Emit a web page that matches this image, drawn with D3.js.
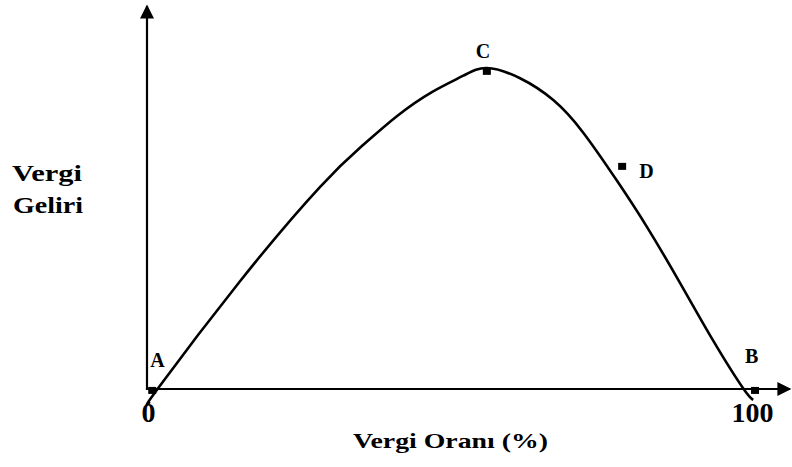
<!DOCTYPE html>
<html>
<head>
<meta charset="utf-8">
<script src="https://cdn.jsdelivr.net/npm/d3@7"></script>
<style>
  body { margin: 0; background: #fff; }
  text { font-family: "Liberation Serif", serif; font-weight: bold; fill: #000; }
</style>
</head>
<body>
<div id="paper"></div>
<script>

// curve (tax rate %, revenue as % of peak).

const taxRate = [0.3, 1.7, 15.2, 28.5, 35.6, 41.2, 47, 52.2, 56.1, 61.6, 67.1, 72, 77.6, 82.6, 88.1, 93.5, 98.5, 100.2]
const revenue = [-4, 0.3, 33.5, 63, 76, 85, 92.5, 97.6, 100, 96.8, 90, 80, 65, 50.5, 33, 15.3, 0.3, -3.4]

// marked points on the curve.

const pointNames = ["A", "B", "C", "D"]
const pointRate = [0.7, 100.5, 56.1, 78.5]
const pointRevenue = [-0.6, -0.6, 98.8, 69.2]

const xTicks = [0, 100]

// svg canvas.

const width = 792, height = 467

const svg = d3.select("#paper")
    .append("svg")
    .attr("id", "canvas")
    .attr("width", width)
    .attr("height", height)
    .style("font-family", "'Liberation Serif', serif")

// scales: 0..100 on both axes.

const x = d3.scaleLinear().domain([0, 100]).range([148, 752])
const y = d3.scaleLinear().domain([0, 100]).range([389, 68])

const xEnd = x.invert(790)
const yEnd = y.invert(6)

// arrow head.

svg.append("defs").append("marker")
    .attr("id", "arrow")
    .attr("viewBox", "0 0 10 10")
    .attr("refX", 9)
    .attr("refY", 5)
    .attr("markerUnits", "userSpaceOnUse")
    .attr("markerWidth", 16)
    .attr("markerHeight", 14)
    .attr("orient", "auto")
    .append("path")
    .attr("d", "M0,0 L10,5 L0,10 Z")
    .attr("fill", "#000")

// axes.

svg.append("line")
    .attr("x1", x(0) - 1).attr("y1", y(0) + 1)
    .attr("x2", x(0) - 1).attr("y2", y(yEnd))
    .attr("stroke", "#000").attr("stroke-width", 2.2)
    .attr("marker-end", "url(#arrow)")

svg.append("line")
    .attr("x1", x(0) - 2).attr("y1", y(0))
    .attr("x2", x(xEnd)).attr("y2", y(0))
    .attr("stroke", "#000").attr("stroke-width", 2.2)
    .attr("marker-end", "url(#arrow)")

// tick labels 0 and 100.

const xAxis = d3.axisBottom(x).tickValues(xTicks).tickSize(0).tickSizeOuter(0).tickPadding(0)

const axisG = svg.append("g")
    .attr("transform", `translate(0, ${y(0)})`)
    .call(xAxis)

axisG.attr("font-family", null)
axisG.select(".domain").remove()
axisG.selectAll("text")
    .attr("dy", null)
    .attr("y", 33)
    .style("font-family", "'Liberation Serif', serif")
    .style("font-weight", "bold")
    .style("font-size", "28px")
    .attr("fill", "#000")

// axis titles.

svg.append("text")
    .attr("x", 353).attr("y", 448)
    .attr("textLength", 195).attr("lengthAdjust", "spacingAndGlyphs")
    .style("font-size", "22px")
    .text("Vergi Oranı (%)")

svg.append("text")
    .attr("x", 12).attr("y", 181)
    .attr("textLength", 70).attr("lengthAdjust", "spacingAndGlyphs")
    .style("font-size", "24px")
    .text("Vergi")

svg.append("text")
    .attr("x", 13).attr("y", 213)
    .attr("textLength", 70).attr("lengthAdjust", "spacingAndGlyphs")
    .style("font-size", "24px")
    .text("Geliri")

// laffer curve.

const curveData = taxRate.map((t, i) => ({ t: t, r: revenue[i] }))

const line = d3.line()
    .x(d => x(d.t))
    .y(d => y(d.r))
    .curve(d3.curveNatural)

svg.append("path")
    .datum(curveData)
    .attr("d", line)
    .attr("fill", "none")
    .attr("stroke", "#000")
    .attr("stroke-width", 2.6)

// point markers and letters.

const points = pointNames.map((n, i) => ({ name: n, t: pointRate[i], r: pointRevenue[i] }))

const labelOffset = { A: [-2, -24], B: [-10, -28], C: [-11, -14], D: [17, 11] }

svg.selectAll(".point")
    .data(points)
    .join("rect")
    .attr("class", "point")
    .attr("x", d => x(d.t) - 4)
    .attr("y", d => y(d.r) - 4)
    .attr("width", 8)
    .attr("height", 7)
    .attr("fill", "#000")

svg.selectAll(".point_label")
    .data(points)
    .join("text")
    .attr("class", "point_label")
    .attr("x", d => x(d.t) + labelOffset[d.name][0])
    .attr("y", d => y(d.r) + labelOffset[d.name][1])
    .style("font-size", "20px")
    .text(d => d.name)

</script>
</body>
</html>
